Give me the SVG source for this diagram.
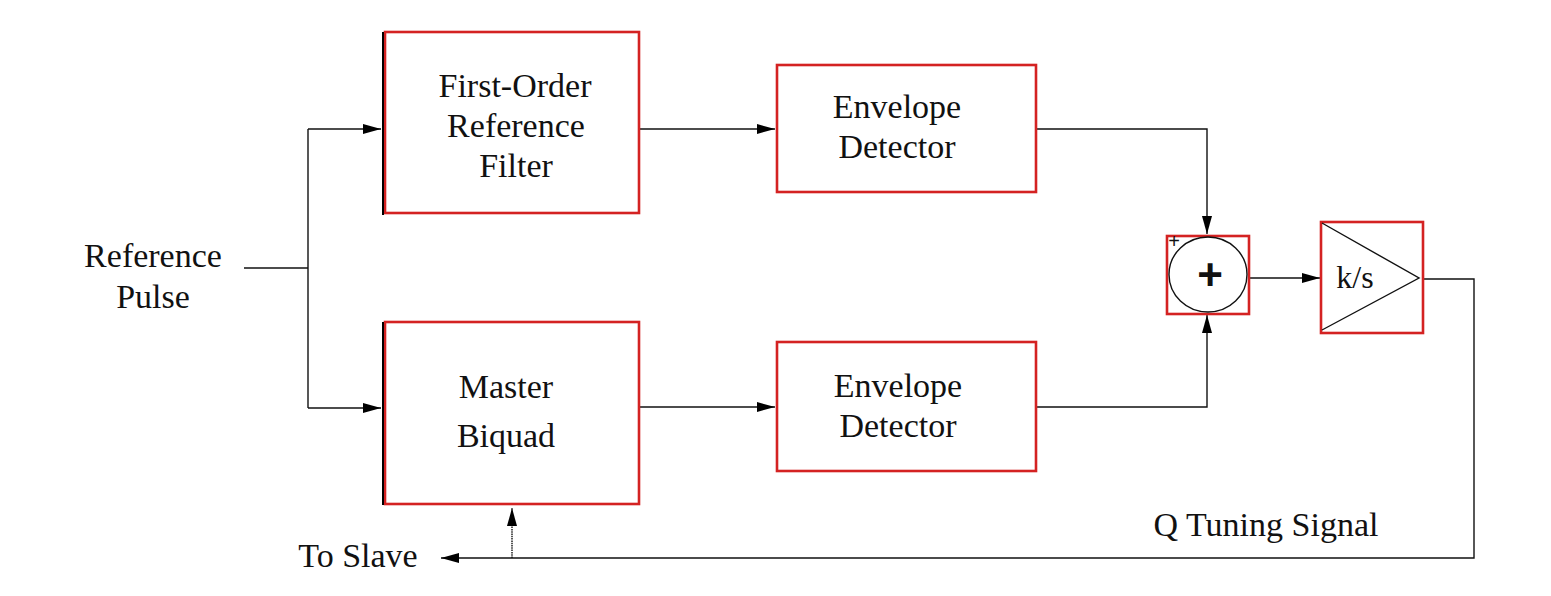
<svg xmlns="http://www.w3.org/2000/svg" width="1551" height="596" viewBox="0 0 1551 596">
<style>
.box{fill:#fff;stroke:#d42222;stroke-width:2.6}
.edge{stroke:#000;stroke-width:2}
.lbl{font-family:"Liberation Serif","Times New Roman",serif;font-size:34px;fill:#111;text-anchor:middle}
.ln{fill:none;stroke:#111;stroke-width:1.4}
</style>
<defs>
<marker id="ah" markerUnits="userSpaceOnUse" markerWidth="19" markerHeight="11" refX="18" refY="5" orient="auto">
<path d="M0,0 L18,5 L0,10 Z" fill="#000"/>
</marker>
</defs>
<rect width="1551" height="596" fill="#fff"/>
<g id="connectors">
<path class="ln" d="M244,268 H308"/>
<path class="ln" d="M308,129 V408"/>
<path class="ln" d="M308,129 H381" marker-end="url(#ah)"/>
<path class="ln" d="M308,408 H381" marker-end="url(#ah)"/>
<path class="ln" d="M640,129 H775" marker-end="url(#ah)"/>
<path class="ln" d="M639,407 H775" marker-end="url(#ah)"/>
<path class="ln" d="M1036,129 H1207 V234" marker-end="url(#ah)"/>
<path class="ln" d="M1036,407 H1207 V315" marker-end="url(#ah)"/>
<path class="ln" d="M1249,278 H1320" marker-end="url(#ah)"/>
<path class="ln" d="M1420,279 H1474 V558 H441" marker-end="url(#ah)"/>
<path class="ln" d="M512,558 V508" stroke-dasharray="1.5 0.8" marker-end="url(#ah)"/>
</g>
<g id="ref-pulse">
<text class="lbl" x="153" y="267">Reference</text>
<text class="lbl" x="153" y="308">Pulse</text>
</g>
<g id="first-order-filter">
<rect class="box" x="385" y="32" width="254" height="181"/>
<path class="edge" d="M383,32 V215"/>
<text class="lbl" x="515" y="97">First-Order</text>
<text class="lbl" x="516" y="137">Reference</text>
<text class="lbl" x="516" y="177">Filter</text>
</g>
<g id="env-det-top">
<rect class="box" x="777" y="65" width="259" height="127"/>
<text class="lbl" x="897" y="118">Envelope</text>
<text class="lbl" x="897" y="158">Detector</text>
</g>
<g id="master-biquad">
<rect class="box" x="385" y="322" width="254" height="182"/>
<path class="edge" d="M383,322 V505"/>
<text class="lbl" x="506" y="398">Master</text>
<text class="lbl" x="506" y="447">Biquad</text>
</g>
<g id="env-det-bottom">
<path d="M778,343 H833 M851,343 H996" stroke="#777" stroke-width="1" stroke-dasharray="1 1.5"/>
<rect class="box" x="777" y="342" width="259" height="129"/>
<text class="lbl" x="898" y="397">Envelope</text>
<text class="lbl" x="898" y="437">Detector</text>
</g>
<g id="summer">
<rect class="box" x="1167" y="236" width="82" height="78"/>
<ellipse cx="1208" cy="274.5" rx="39" ry="37.5" fill="none" stroke="#111" stroke-width="1.4"/>
<text x="1210" y="290" style="font-family:'Liberation Sans',Arial,sans-serif;font-size:44px;font-weight:bold;fill:#111;text-anchor:middle">+</text>
<text x="1174" y="248" style="font-family:'Liberation Sans',Arial,sans-serif;font-size:20px;fill:#111;text-anchor:middle">+</text>
</g>
<g id="integrator">
<rect class="box" x="1321" y="222" width="102" height="111"/>
<path d="M1322,223 L1419,278 L1322,330" fill="none" stroke="#111" stroke-width="1.4"/>
<text class="lbl" x="1355" y="288" style="font-size:32px">k/s</text>
</g>
<g id="labels">
<text class="lbl" x="358" y="567">To Slave</text>
<text class="lbl" x="1266" y="536">Q Tuning Signal</text>
</g>
</svg>
